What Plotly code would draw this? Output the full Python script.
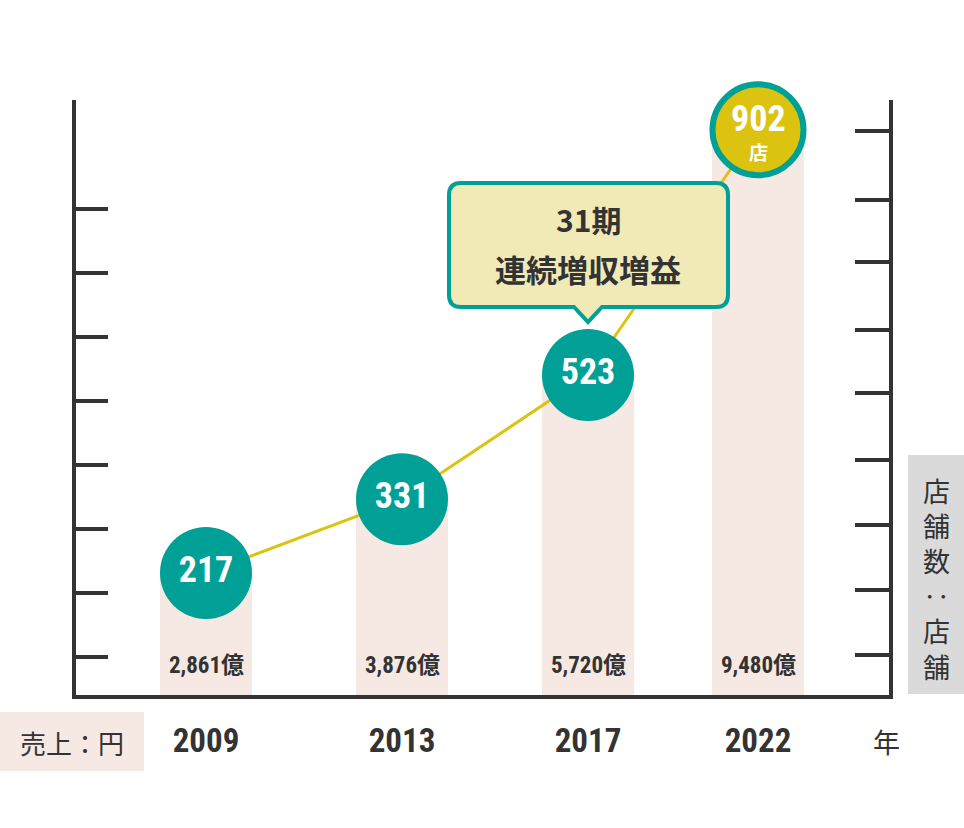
import plotly.graph_objects as go

# ---------------- data ----------------
years = ["2009", "2013", "2017", "2022"]
stores = [217, 331, 523, 902]
sales = [2861, 3876, 5720, 9480]
sales_unit = "億"
callout_title = "31期"
callout_text = "連続増収増益"
store_unit = "店"
right_title = ["店", "舗", "数", "‥", "店", "舗"]
left_title = "売上：円"
year_unit = "年"

# ---------------- layout constants ----------------
W, H = 964, 828
PL, PR, PT, PB = 76, 889, 100, 695          # plot area in px
x_pos = [130, 326, 512, 682]                 # column centres (px from left axis)
BAR_W = 92
Y_RANGE = [28.4, 948]
left_ticks = [87, 186, 285, 384, 483, 582, 681, 780]
right_ticks = [40, 105, 170, 235, 302, 365, 433, 495, 564]

TEAL = "#00a096"
YELLOW = "#dcc30f"
PINK = "#f6e9e4"
DARK = "#333333"
NUM_FONT = "Liberation Sans Narrow, Roboto Condensed, DejaVu Sans Condensed, Noto Sans CJK JP, sans-serif"
CJK = "Noto Sans CJK JP, Noto Sans, sans-serif"


def px(x):
    return (x - PL) / (PR - PL)


def py(y):
    return (PB - y) / (PB - PT)


sales_labels = [f"{v:,}{sales_unit}" for v in sales]

fig = go.Figure()

fig.add_trace(go.Bar(
    x=x_pos, y=stores, width=BAR_W,
    marker=dict(color=PINK, line=dict(width=0)),
    hoverinfo="skip", showlegend=False,
))

fig.add_trace(go.Scatter(
    x=x_pos, y=stores, mode="lines+markers+text",
    line=dict(color=YELLOW, width=3),
    marker=dict(size=[92, 92, 92, 91], opacity=1,
                color=[TEAL, TEAL, TEAL, YELLOW],
                line=dict(width=[0, 0, 0, 6], color=TEAL)),
    text=[str(s) for s in stores[:-1]] + [""],
    textposition="middle center",
    textfont=dict(family=NUM_FONT, size=36, color="white", weight="bold"),
    cliponaxis=False, hoverinfo="skip", showlegend=False,
))

# hidden trace to anchor right axis
fig.add_trace(go.Scatter(x=[None], y=[None], yaxis="y2", showlegend=False, hoverinfo="skip"))


def ann(x, y, text, font, **kw):
    d = dict(x=px(x), y=py(y), xref="paper", yref="paper", text=text, showarrow=False,
             xanchor="center", yanchor="middle", font=font)
    d.update(kw)
    return d


annotations = []
# last circle label
annotations.append(dict(x=x_pos[3], y=stores[3], xref="x", yref="y", text=str(stores[3]),
                        showarrow=False, yshift=11, xanchor="center", yanchor="middle",
                        font=dict(family=NUM_FONT, size=36, color="white", weight="bold")))
annotations.append(dict(x=x_pos[3], y=stores[3], xref="x", yref="y", text=store_unit,
                        showarrow=False, yshift=-22, xanchor="center", yanchor="middle",
                        font=dict(family=CJK, size=19, color="white", weight="bold")))
# sales labels
for xp, lab in zip(x_pos, sales_labels):
    annotations.append(dict(x=xp, y=0, xref="x", yref="paper", text=lab, showarrow=False,
                            xanchor="center", yanchor="middle", yshift=30,
                            font=dict(family=NUM_FONT, size=23, color=DARK, weight="bold")))
# callout text
annotations.append(ann(588, 219, callout_title, dict(family=CJK, size=30, color=DARK, weight="bold")))
annotations.append(ann(588, 268, callout_text, dict(family=CJK, size=31, color=DARK, weight="bold")))
# right vertical title (stacked glyphs)
annotations.append(ann(936, 578, "<br>".join(right_title), dict(family=CJK, size=27, color=DARK)))
# left bottom title
annotations.append(ann(72, 742, left_title, dict(family=CJK, size=26, color=DARK)))
# year unit
annotations.append(ann(886, 741, year_unit, dict(family=CJK, size=27, color=DARK)))

# callout bubble path (rounded rect + pointer)
x0, x1, y0, y1 = 449, 728, 183, 307
r = 12
tipx, tipy, hw = 588, 322, 14


def P(x, y):
    return f"{px(x):.5f},{py(y):.5f}"


path = (f"M {P(x0 + r, y0)} L {P(x1 - r, y0)} Q {P(x1, y0)} {P(x1, y0 + r)} "
        f"L {P(x1, y1 - r)} Q {P(x1, y1)} {P(x1 - r, y1)} "
        f"L {P(tipx + hw, y1)} L {P(tipx, tipy)} L {P(tipx - hw, y1)} "
        f"L {P(x0 + r, y1)} Q {P(x0, y1)} {P(x0, y1 - r)} "
        f"L {P(x0, y0 + r)} Q {P(x0, y0)} {P(x0 + r, y0)} Z")

shapes = [
    dict(type="path", path=path, xref="paper", yref="paper", layer="above",
         fillcolor="#f1eab7", line=dict(color=TEAL, width=4)),
    dict(type="rect", xref="paper", yref="paper", x0=px(908), x1=px(970), y0=py(455), y1=py(694),
         fillcolor="#dadada", line=dict(width=0), layer="below"),
    dict(type="rect", xref="paper", yref="paper", x0=px(-10), x1=px(144), y0=py(712), y1=py(771),
         fillcolor=PINK, line=dict(width=0), layer="below"),
]

fig.update_layout(
    width=W, height=H,
    margin=dict(l=PL, r=W - PR, t=PT, b=H - PB, pad=0),
    paper_bgcolor="white", plot_bgcolor="white",
    showlegend=False,
    bargap=0,
    xaxis=dict(range=[0, PR - PL], showgrid=False, zeroline=False,
               showline=True, linewidth=4, linecolor=DARK,
               tickvals=x_pos, ticktext=years, ticks="",
               ticklabelstandoff=13,
               tickfont=dict(family=NUM_FONT, size=33, color=DARK, weight="bold")),
    yaxis=dict(range=Y_RANGE, showgrid=False, zeroline=False,
               showline=True, linewidth=4, linecolor=DARK,
               tickvals=left_ticks, ticks="inside", ticklen=32, tickwidth=4, tickcolor=DARK,
               showticklabels=False),
    yaxis2=dict(range=[0, PB - PT], overlaying="y", side="right", showgrid=False, zeroline=False,
                showline=True, linewidth=4, linecolor=DARK,
                tickvals=right_ticks, ticks="inside", ticklen=34, tickwidth=4, tickcolor=DARK,
                showticklabels=False),
    annotations=annotations,
    shapes=shapes,
)

fig.write_html("out.html",
               config={"displayModeBar": False},
               post_script="document.body.style.margin='0';document.body.style.overflow='hidden';")
